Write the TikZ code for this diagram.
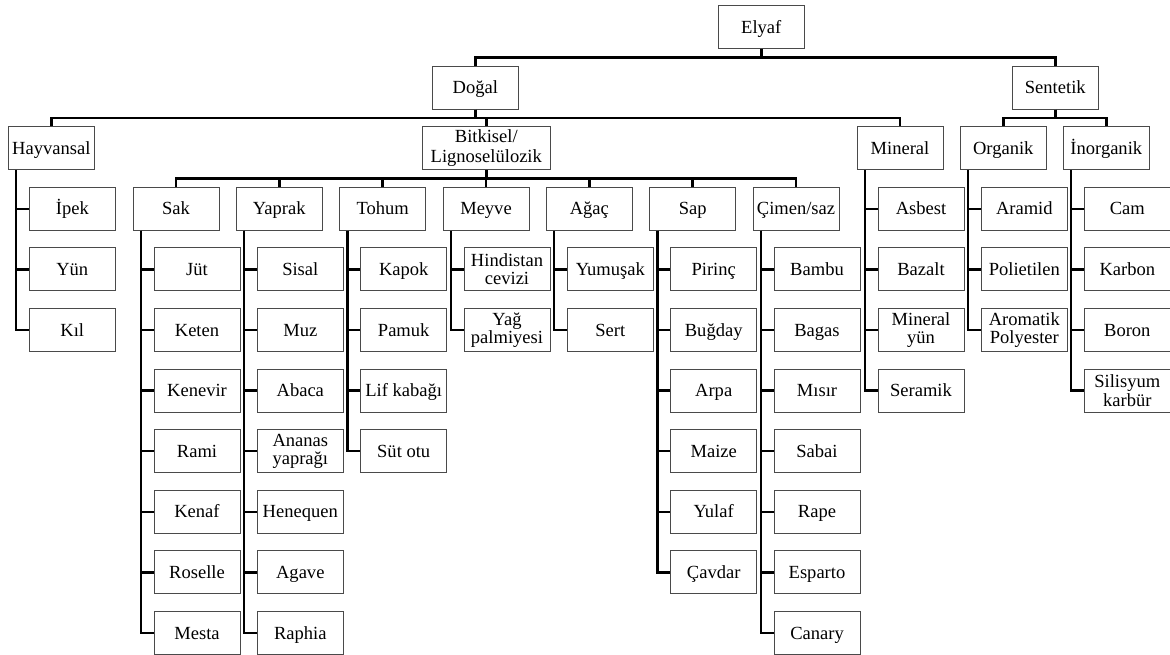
\documentclass[tikz,border=0pt]{standalone}
\usepackage{fontspec}
\setmainfont{Liberation Serif}
\definecolor{boxgray}{HTML}{4A4A4A}
\tikzset{
  box2/.style={draw=boxgray, line width=0.75pt, minimum width=64.5pt, minimum height=32.25pt,
    inner sep=1pt, align=center, font=\fontsize{13.9}{13.6}\selectfont},
  box/.style={box2, text height=9.2pt, text depth=0pt},
  widebox/.style={box2, minimum width=96pt, font=\fontsize{13.9}{15}\selectfont},
  conn/.style={line width=1.9pt, black, line join=miter},
}
\begin{document}
\begin{tikzpicture}[x=0.75pt, y=-0.75pt]
\useasboundingbox (0,0) rectangle (1170,655);
% ---- nodes ----
\node[box] (elyaf) at (761.3,27) {Elyaf};
\node[box] (dogal) at (475.3,87.6) {Doğal};
\node[box] (sentetik) at (1055.3,87.6) {Sentetik};
\node[box] (hayvansal) at (51.3,148.2) {Hayvansal};
\node[widebox] (bitkisel) at (486.3,148.2) {Bitkisel/\\Lignoselülozik};
\node[box] (mineral) at (900,148.2) {Mineral};
\node[box] (organik) at (1003.3,148.2) {Organik};
\node[box] (inorganik) at (1106.3,148.2) {İnorganik};
% level 3
\node[box] (sak) at (176,208.8) {Sak};
\node[box] (yaprak) at (279.3,208.8) {Yaprak};
\node[box] (tohum) at (382.7,208.8) {Tohum};
\node[box] (meyve) at (486,208.8) {Meyve};
\node[box] (agac) at (589.3,208.8) {Ağaç};
\node[box] (sap) at (692.7,208.8) {Sap};
\node[box] (cimen) at (796,208.8) {Çimen/saz};
% Hayvansal leaves
\node[box] (ipek) at (72.3,208.8) {İpek};
\node[box] (yun) at (72.3,269.4) {Yün};
\node[box] (kil) at (72.3,330) {Kıl};
% Mineral leaves
\node[box] (asbest) at (921,208.8) {Asbest};
\node[box] (bazalt) at (921,269.4) {Bazalt};
\node[box2] (minyun) at (921,330) {Mineral\\yün};
\node[box] (seramik) at (921,390.6) {Seramik};
% Organik leaves
\node[box] (aramid) at (1024.3,208.8) {Aramid};
\node[box] (polietilen) at (1024.3,269.4) {Polietilen};
\node[box2] (aromatik) at (1024.3,330) {Aromatik\\Polyester};
% Inorganik leaves
\node[box] (cam) at (1127.3,208.8) {Cam};
\node[box] (karbon) at (1127.3,269.4) {Karbon};
\node[box] (boron) at (1127.3,330) {Boron};
\node[box2] (silisyum) at (1127.3,390.6) {Silisyum\\karbür};
% Sak leaves
\node[box] (jut) at (197,269.4) {Jüt};
\node[box] (keten) at (197,330) {Keten};
\node[box] (kenevir) at (197,390.6) {Kenevir};
\node[box] (rami) at (197,451.2) {Rami};
\node[box] (kenaf) at (197,511.8) {Kenaf};
\node[box] (roselle) at (197,572.4) {Roselle};
\node[box] (mesta) at (197,633) {Mesta};
% Yaprak leaves
\node[box] (sisal) at (300.3,269.4) {Sisal};
\node[box] (muz) at (300.3,330) {Muz};
\node[box] (abaca) at (300.3,390.6) {Abaca};
\node[box2] (ananas) at (300.3,451.2) {Ananas\\yaprağı};
\node[box] (henequen) at (300.3,511.8) {Henequen};
\node[box] (agave) at (300.3,572.4) {Agave};
\node[box] (raphia) at (300.3,633) {Raphia};
% Tohum leaves
\node[box] (kapok) at (403.7,269.4) {Kapok};
\node[box] (pamuk) at (403.7,330) {Pamuk};
\node[box] (lif) at (403.7,390.6) {Lif kabağı};
\node[box] (sut) at (403.7,451.2) {Süt otu};
% Meyve leaves
\node[box2] (hindistan) at (507,269.4) {Hindistan\\cevizi};
\node[box2] (yag) at (507,330) {Yağ\\palmiyesi};
% Agac leaves
\node[box] (yumusak) at (610.3,269.4) {Yumuşak};
\node[box] (sert) at (610.3,330) {Sert};
% Sap leaves
\node[box] (pirinc) at (713.7,269.4) {Pirinç};
\node[box] (bugday) at (713.7,330) {Buğday};
\node[box] (arpa) at (713.7,390.6) {Arpa};
\node[box] (maize) at (713.7,451.2) {Maize};
\node[box] (yulaf) at (713.7,511.8) {Yulaf};
\node[box] (cavdar) at (713.7,572.4) {Çavdar};
% Cimen leaves
\node[box] (bambu) at (817,269.4) {Bambu};
\node[box] (bagas) at (817,330) {Bagas};
\node[box] (misir) at (817,390.6) {Mısır};
\node[box] (sabai) at (817,451.2) {Sabai};
\node[box] (rape) at (817,511.8) {Rape};
\node[box] (esparto) at (817,572.4) {Esparto};
\node[box] (canary) at (817,633) {Canary};
% ---- tree connectors ----
\foreach \c in {dogal,sentetik}
  \draw[conn] (elyaf.south) -- ++(0,8.4) -| (\c.north);
\foreach \c in {hayvansal,bitkisel,mineral}
  \draw[conn] (dogal.south) -- ++(0,8.4) -| (\c.north);
\foreach \c in {organik,inorganik}
  \draw[conn] (sentetik.south) -- ++(0,8.4) -| (\c.north);
\foreach \c in {sak,yaprak,tohum,meyve,agac,sap,cimen}
  \draw[conn] (bitkisel.south) -- ++(0,8.4) -| (\c.north);
% ---- list connectors ----
\foreach \p/\kids in {hayvansal/{ipek,yun,kil},
    mineral/{asbest,bazalt,minyun,seramik},
    organik/{aramid,polietilen,aromatik},
    inorganik/{cam,karbon,boron,silisyum},
    sak/{jut,keten,kenevir,rami,kenaf,roselle,mesta},
    yaprak/{sisal,muz,abaca,ananas,henequen,agave,raphia},
    tohum/{kapok,pamuk,lif,sut},
    meyve/{hindistan,yag},
    agac/{yumusak,sert},
    sap/{pirinc,bugday,arpa,maize,yulaf,cavdar},
    cimen/{bambu,bagas,misir,sabai,rape,esparto,canary}}
  \foreach \k in \kids
    \draw[conn] ([xshift=6.3pt]\p.south west) |- (\k.west);
\end{tikzpicture}
\end{document}
